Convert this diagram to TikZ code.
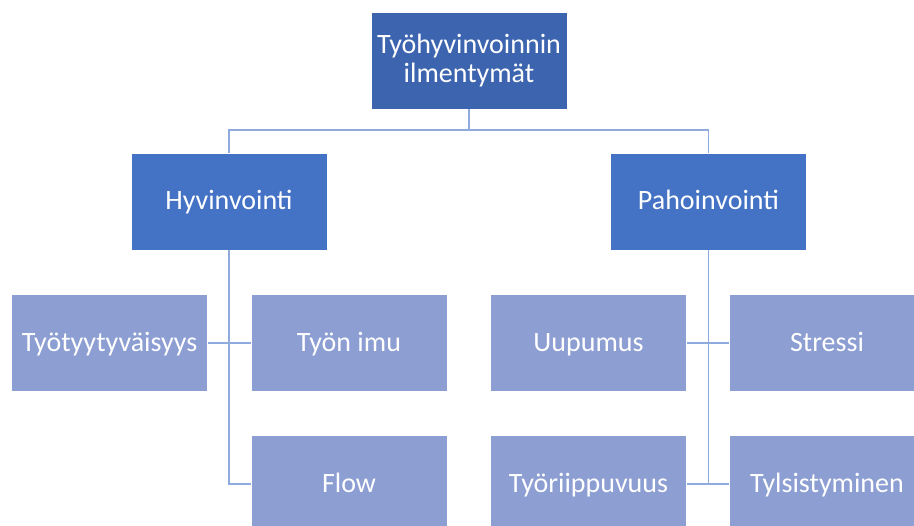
\documentclass[tikz,border=0pt]{standalone}
\usepackage{fontspec}
\setmainfont{Carlito}
\definecolor{topblue}{HTML}{3D64AE}
\definecolor{midblue}{HTML}{4472C4}
\definecolor{lightblue}{HTML}{8C9ED2}
\definecolor{lineblue}{HTML}{8FAADC}
\begin{document}
\begin{tikzpicture}[x=1pt,y=-1pt,
  box/.style={rectangle,draw=white,line width=0.6pt,minimum width=196pt,minimum height=97pt,inner sep=0pt,text=white,font=\fontsize{28}{29}\selectfont,align=center},
  oneline/.style={text height=22.4pt,text depth=5.6pt},
  topbox/.style={box,fill=topblue},
  midbox/.style={box,oneline,fill=midblue},
  leafbox/.style={box,oneline,fill=lightblue},
  link/.style={draw=lineblue,line width=1.5pt}]
\useasboundingbox (0,0) rectangle (914,526);

\node[topbox] (top) at (469,60.5) {Työhyvinvoinnin\\ilmentymät};
\node[midbox] (hyv) at (229,201.5) {Hyvinvointi};
\node[midbox] (pah) at (708.5,201.5) {Pahoinvointi};

\node[leafbox] (tyyt) at (109.5,343) {Työtyytyväisyys};
\node[leafbox] (imu) at (349,343) {Työn imu};
\node[leafbox] (flow) at (349,484) {Flow};
\node[leafbox] (uup) at (588.5,343) {Uupumus};
\node[leafbox] (stress) at (827,343) {Stressi};
\node[leafbox] (riip) at (588.5,484) {Työriippuvuus};
\node[leafbox] (tyls) at (827,484) {Tylsistyminen};

\coordinate (split) at (469,130);

\draw[link] (top.south) -- (split);
\draw[link] (split) -| (hyv.north);
\draw[link] (split) -| (pah.north);

\draw[link] (hyv.south) |- (flow.west);
\draw[link] (tyyt.east) -- (imu.west);
\draw[link] (pah.south) |- (tyls.west);
\draw[link] (uup.east) -- (stress.west);
\draw[link] (riip.east) -- (tyls.west);
\end{tikzpicture}
\end{document}
